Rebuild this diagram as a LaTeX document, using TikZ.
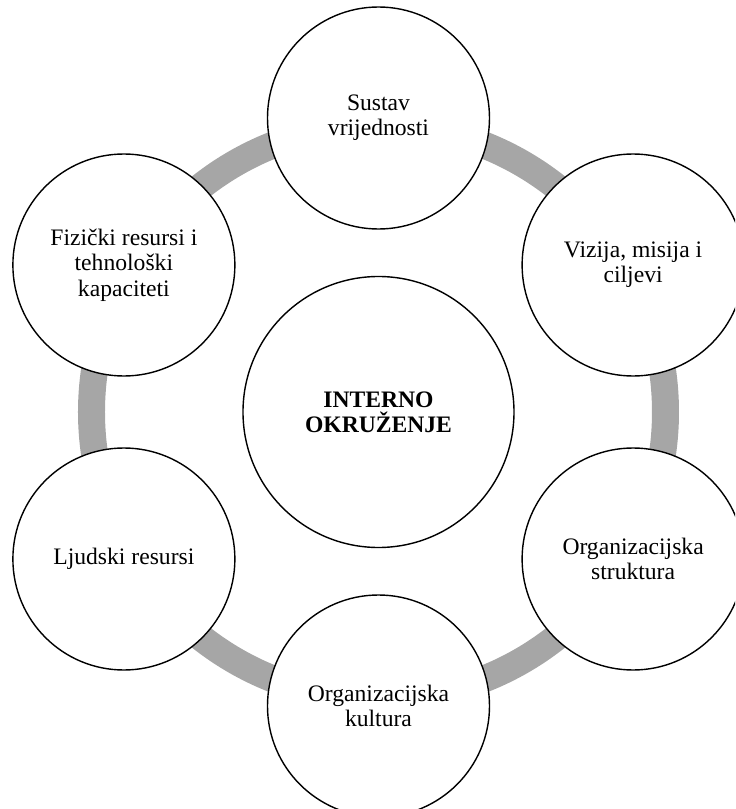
\documentclass[tikz,border=0pt]{standalone}
\usepackage{fontspec}
\setmainfont{Liberation Serif}
\definecolor{ringgray}{HTML}{A6A6A6}

\begin{document}
\begin{tikzpicture}[line cap=round,line join=round,
  part/.style={circle,draw,line width=1pt,fill=white,minimum size=5.55cm,
    inner sep=0pt,align=center,font=\fontsize{16.8}{18}\selectfont},
  core/.style={part,minimum size=6.775cm,font=\fontsize{16.8}{18}\selectfont\bfseries}]
  \useasboundingbox (-9.4625,-9.925) rectangle (8.9125,10.3);
  \clip (-9.4625,-9.925) rectangle (8.9125,10.3);
  \draw[line width=0.675cm,ringgray] (0,0) circle (7.175);
  \node[core] (env) at (0,0) {INTERNO\\OKRUŽENJE};
  \node[part] (values) at (90:7.35) {Sustav\\vrijednosti};
  \node[part] (vision) at (30:7.35) {Vizija, misija i\\ciljevi};
  \node[part] (structure) at (-30:7.35) {Organizacijska\\struktura};
  \node[part] (culture) at (-90:7.35) {Organizacijska\\kultura};
  \node[part] (people) at (210:7.35) {Ljudski resursi};
  \node[part] (physical) at (150:7.35) {Fizički resursi i\\tehnološki\\kapaciteti};
\end{tikzpicture}
\end{document}
